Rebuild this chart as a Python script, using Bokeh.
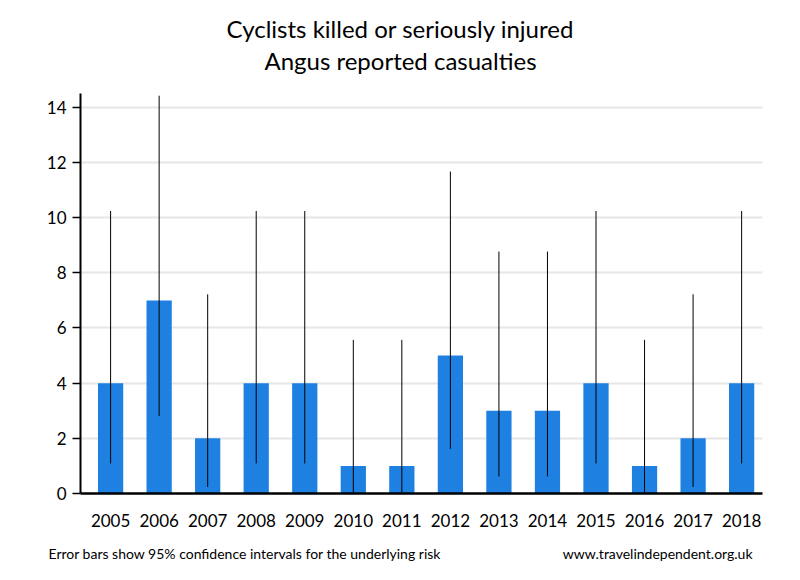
from bokeh.plotting import figure
from bokeh.models import FixedTicker, Range1d
from bokeh.layouts import column
from bokeh.core.properties import value
from bokeh.embed import file_html
from bokeh.resources import INLINE

years = [2005, 2006, 2007, 2008, 2009, 2010, 2011, 2012, 2013, 2014, 2015, 2016, 2017, 2018]
casualties = [4, 7, 2, 4, 4, 1, 1, 5, 3, 3, 4, 1, 2, 4]
ci_low = [1.09, 2.81, 0.24, 1.09, 1.09, 0.03, 0.03, 1.62, 0.62, 0.62, 1.09, 0.03, 0.24, 1.09]
ci_high = [10.24, 14.42, 7.22, 10.24, 10.24, 5.57, 5.57, 11.67, 8.77, 8.77, 10.24, 5.57, 7.22, 10.24]
y_ticks = [0, 2, 4, 6, 8, 10, 12, 14]

title_lines = ["Cyclists killed or seriously injured", "Angus reported casualties"]
note_left = "Error bars show 95% confidence intervals for the underlying risk"
note_right = "www.travelindependent.org.uk"

FONT = "Lato"
W = 784
HEAD_H, MAIN_H, FOOT_H = 85, 450, 29
BL, BR = 80, 22


def blank(h):
    # full-width frame, not aligned to the main plot; data x == page x
    f = figure(width=W, height=h, output_backend="svg", toolbar_location=None,
               x_range=Range1d(0, W), y_range=Range1d(h, 0),
               min_border_left=0, min_border_right=0,
               min_border_top=0, min_border_bottom=0, frame_align=False)
    f.axis.visible = False
    f.grid.visible = False
    f.outline_line_color = None
    return f


head = blank(HEAD_H)
head.text(x=[400, 400], y=[28, 60], text=title_lines,
          text_font=value(FONT), text_font_size="24px", text_align="center",
          text_baseline="middle", text_color="black")

p = figure(width=W, height=MAIN_H, output_backend="svg", toolbar_location=None,
           x_range=Range1d(2004.38, 2018.43), y_range=Range1d(0, 14.5),
           min_border_left=BL, min_border_right=BR, min_border_top=8, min_border_bottom=42,
           frame_align=False)
p.outline_line_color = None

p.vbar(x=years, top=casualties, width=0.52, color="#1e80e0", line_color=None)
p.segment(x0=years, y0=ci_low, x1=years, y1=ci_high, line_color="black", line_width=1)

p.xaxis.ticker = FixedTicker(ticks=years)
p.xaxis.major_tick_line_color = None
p.xaxis.minor_tick_line_color = None
p.xaxis.axis_line_width = 2.5
p.xaxis.axis_line_color = "black"
p.xaxis.major_label_text_font = FONT
p.xaxis.major_label_text_font_size = "17px"
p.xaxis.major_label_text_color = "black"
p.xaxis.major_label_standoff = 14

p.yaxis.ticker = FixedTicker(ticks=y_ticks)
p.yaxis.major_tick_out = 8
p.yaxis.major_tick_in = 0
p.yaxis.major_tick_line_width = 1.5
p.yaxis.minor_tick_line_color = None
p.yaxis.axis_line_width = 2
p.yaxis.axis_line_color = "black"
p.yaxis.major_label_text_font = FONT
p.yaxis.major_label_text_font_size = "17px"
p.yaxis.major_label_text_color = "black"
p.yaxis.major_label_standoff = 6

p.xgrid.grid_line_color = None
p.ygrid.grid_line_color = "#e6e6e6"
p.ygrid.grid_line_width = 2

foot = blank(FOOT_H)
foot.text(x=[48], y=[18], text=[note_left], text_font=value(FONT), text_font_size="14px",
          text_align="left", text_baseline="middle", text_color="black")
foot.text(x=[752], y=[18], text=[note_right], text_font=value(FONT), text_font_size="14px",
          text_align="right", text_baseline="middle", text_color="black")

layout = column(head, p, foot, spacing=0)
open("out.html", "w").write(file_html(layout, INLINE))
